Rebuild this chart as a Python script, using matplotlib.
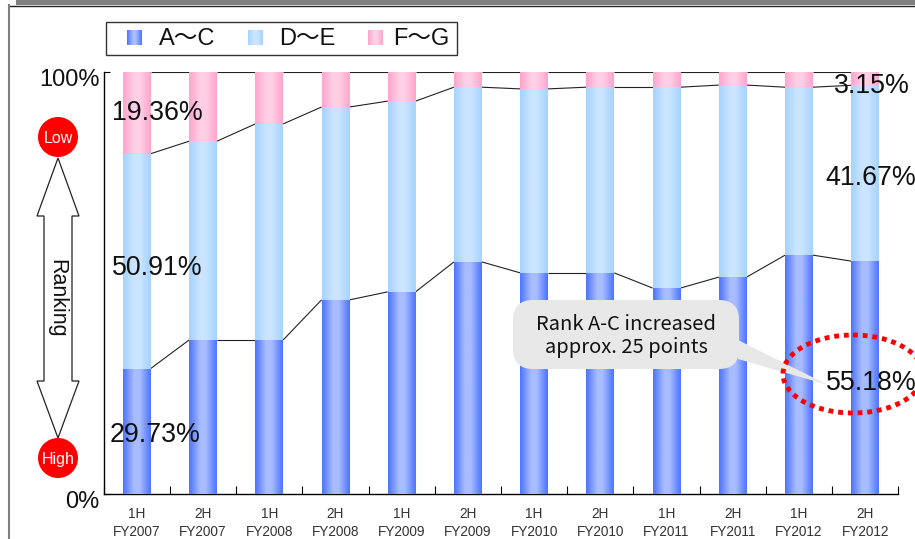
import numpy as np
import matplotlib
matplotlib.use('Agg')
import matplotlib.pyplot as plt
from matplotlib.colors import LinearSegmentedColormap
from matplotlib.patches import Circle, Ellipse, FancyBboxPatch, Polygon, Rectangle
from matplotlib.transforms import ScaledTranslation

plt.rcParams['font.family'] = ['Liberation Sans', 'Noto Sans CJK JP', 'DejaVu Sans']

half = ['1H', '2H'] * 6
years = ['FY2007', 'FY2007', 'FY2008', 'FY2008', 'FY2009', 'FY2009',
         'FY2010', 'FY2010', 'FY2011', 'FY2011', 'FY2012', 'FY2012']
rank_ac = [29.73, 36.5, 36.5, 46.0, 47.9, 55.0, 52.4, 52.4, 48.8, 51.4, 56.6, 55.18]
rank_de = [50.91, 47.1, 51.2, 45.7, 45.2, 41.4, 43.6, 44.0, 47.6, 45.5, 39.8, 41.67]
rank_fg = [19.36, 16.4, 12.3, 8.3, 6.9, 3.6, 4.0, 3.6, 3.6, 3.1, 3.6, 3.15]

legend_names = ['A〜C', 'D〜E', 'F〜G']
edge_cols = ['#4d74ff', '#a5d3ff', '#ffa5cc']
mid_cols = ['#a8bcff', '#cbe5ff', '#ffd0e5']

W, H = 915, 539
fig = plt.figure(figsize=(W / 100, H / 100), dpi=100)


def px_rect(x0, y0, x1, y1):
    # pixel box, y counted from the top
    return [x0 / W, 1 - y1 / H, (x1 - x0) / W, (y1 - y0) / H]


bg = fig.add_axes([0, 0, 1, 1], zorder=0)
bg.set_xlim(0, W)
bg.set_ylim(H, 0)
bg.axis('off')

ax = fig.add_axes(px_rect(103.7, 72, 898.3, 494), zorder=1)
ax.patch.set_alpha(0)
top = fig.add_axes([0, 0, 1, 1], zorder=2)
top.set_xlim(0, W)
top.set_ylim(H, 0)
top.axis('off')


def gradient(edge, mid):
    cmap = LinearSegmentedColormap.from_list('g', [(0, edge), (0.4, mid), (0.6, mid), (1, edge)])
    return cmap(np.linspace(0, 1, 64))[None, :, :3]


x = np.arange(len(half))
bar_w = 0.42
bottom = np.zeros(len(x))
tops = []
for vals, e, m in zip([rank_ac, rank_de, rank_fg], edge_cols, mid_cols):
    bars = ax.bar(x, vals, bar_w, bottom=bottom, color=e, zorder=2)
    img = gradient(e, m)
    for b in bars:
        ax.imshow(img, extent=[b.get_x(), b.get_x() + b.get_width(), b.get_y(), b.get_y() + b.get_height()],
                  aspect='auto', zorder=3, interpolation='bilinear')
    bottom = bottom + np.array(vals)
    tops.append(bottom.copy())

# connecting lines between the stacks
for t in tops:
    for i in range(len(x) - 1):
        ax.plot([x[i] + bar_w / 2, x[i + 1] - bar_w / 2], [t[i], t[i + 1]],
                color='#222222', lw=0.8, zorder=1, solid_capstyle='butt')

ax.set_xlim(-0.5, len(x) - 0.5)
ax.set_ylim(0, 100)
for s in ['top', 'right']:
    ax.spines[s].set_visible(False)
ax.spines['left'].set_linewidth(1.0)
ax.spines['bottom'].set_linewidth(1.0)
ax.set_yticks([0, 100])
ax.set_yticklabels(['0%', '100%'], fontsize=17, color='#111111')
ax.tick_params(axis='y', direction='in', length=4, width=0.8, pad=3)
for lab in ax.get_yticklabels():
    lab.set_transform(lab.get_transform() + ScaledTranslation(0, -5 / 100, fig.dpi_scale_trans))
ax.set_xticks(x)
ax.set_xticklabels([f'{a}\n{b}' for a, b in zip(half, years)], fontsize=9.8, color='#333333',
                   linespacing=1.4)
ax.set_xticks(np.arange(-0.5, len(x)), minor=True)
ax.tick_params(axis='x', which='major', length=0, pad=9)
ax.tick_params(axis='x', which='minor', direction='in', length=6, width=0.8)

# value labels
notes = [('19.36%', 157.5, 113), ('50.91%', 157, 268), ('29.73%', 155, 435),
         ('3.15%', 872, 86), ('41.67%', 871, 178), ('55.18%', 871, 383)]
for txt, px, py in notes:
    top.text(px, py, txt, fontsize=19.3, color='#111111', ha='center', va='center', zorder=8)

# page frame
bg.add_patch(Rectangle((16, 0), W - 16, 5, color='#808080', lw=0))
bg.plot([9, W], [5.5, 5.5], color='#222222', lw=1)
bg.plot([9, 9], [5, H], color='#808080', lw=1.5)

# legend
top.add_patch(Rectangle((106, 22), 351, 33, fc='white', ec='#333333', lw=1))
for name, sx, tx, e, m in zip(legend_names, [127, 248, 368], [159, 279, 393], edge_cols, mid_cols):
    top.imshow(gradient(e, m), extent=[sx, sx + 15, 45, 30], aspect='auto', zorder=3)
    top.text(tx, 39, name, fontsize=17, color='#111111', va='center', ha='left')

# ranking arrow
arrow_x = [58, 79, 72, 72, 79, 58, 37, 44, 44, 37]
arrow_y = [158, 216, 216, 381, 381, 438, 381, 381, 216, 216]
bg.add_patch(Polygon(np.column_stack([arrow_x, arrow_y]), fc='white', ec='#222222', lw=0.9, zorder=2))
bg.text(57, 298, 'Ranking', rotation=-90, fontsize=15.5, ha='center', va='center', color='#111111', zorder=3)
for cy, txt in [(137, 'Low'), (458, 'High')]:
    bg.add_patch(Circle((58, cy), 20, color='#ff0000', lw=0, zorder=3))
    bg.text(58, cy + 1.5, txt, color='white', fontsize=11.5, ha='center', va='center', zorder=4)

# callout
top.add_patch(Polygon([[738, 340], [738, 359], [828, 385]], fc='#e8e8e8', ec='none', zorder=5))
top.add_patch(FancyBboxPatch((524, 311), 204, 47, boxstyle='round,pad=11,rounding_size=20',
                             fc='#e8e8e8', ec='none', zorder=5))
top.text(626, 325, 'Rank A-C increased', fontsize=14.5, ha='center', va='center', color='#111111', zorder=6,
         family=['Noto Sans CJK JP', 'DejaVu Sans'])
top.text(626, 348, 'approx. 25 points', fontsize=14.5, ha='center', va='center', color='#111111', zorder=6,
         family=['Noto Sans CJK JP', 'DejaVu Sans'])
top.add_patch(Ellipse((853, 374), 140, 78, fc='none', ec='#ff0000', lw=3.5, ls=(0, (1, 1)), zorder=7))

top.set_xlim(0, W)
top.set_ylim(H, 0)
fig.savefig('out.png', dpi=100)
